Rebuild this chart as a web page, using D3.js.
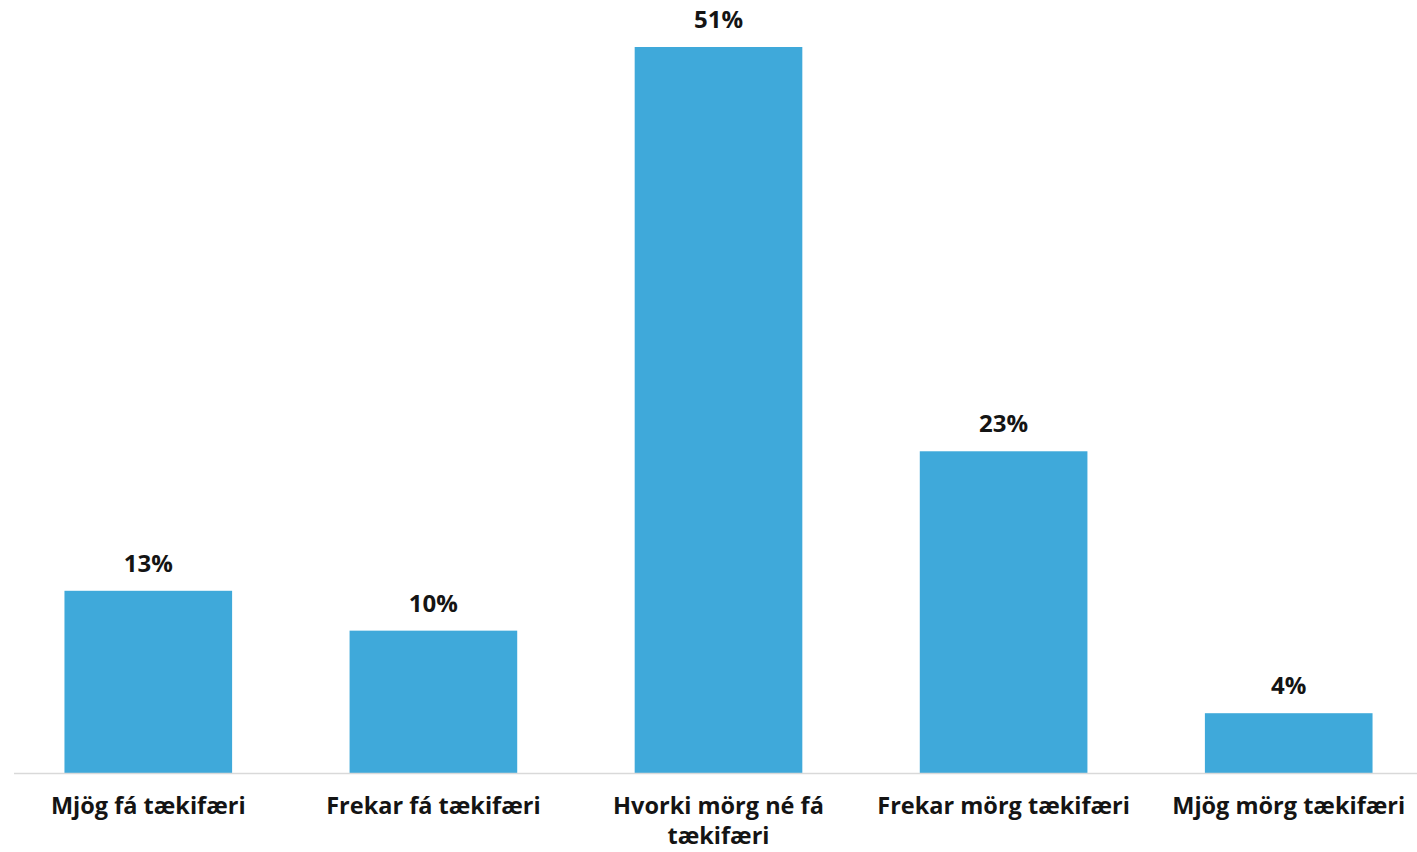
<!DOCTYPE html>
<html>
<head>
<meta charset="utf-8">
<script src="https://cdn.jsdelivr.net/npm/d3@7"></script>
<style>
  html, body { margin: 0; padding: 0; background: #ffffff; }
  svg { display: block; }
</style>
</head>
<body>
<div id="chart"></div>
<script>
const categories = [
  "Mjög fá tækifæri",
  "Frekar fá tækifæri",
  "Hvorki mörg né fá tækifæri",
  "Frekar mörg tækifæri",
  "Mjög mörg tækifæri"
];
const categoryLines = [
  ["Mjög fá tækifæri"],
  ["Frekar fá tækifæri"],
  ["Hvorki mörg né fá", "tækifæri"],
  ["Frekar mörg tækifæri"],
  ["Mjög mörg tækifæri"]
];
const values = [12.8, 10.0, 51.0, 22.6, 4.2];
const valueLabels = ["13%", "10%", "51%", "23%", "4%"];

const W = 1417, H = 852;
const baseline = 773;
const svg = d3.select("#chart").append("svg").attr("width", W).attr("height", H);

const x = d3.scaleBand()
  .domain(categories)
  .range([14, 1423])
  .paddingInner(0.412)
  .paddingOuter(0.177);

const y = d3.scaleLinear()
  .domain([0, 51])
  .range([baseline, 47]);

const font = "'Open Sans', 'DejaVu Sans', sans-serif";

svg.append("g").selectAll("rect")
  .data(values)
  .join("rect")
  .attr("x", (d, i) => x(categories[i]))
  .attr("width", x.bandwidth())
  .attr("y", d => y(d))
  .attr("height", d => y(0) - y(d))
  .attr("fill", "#3fa9da");

// axis line
svg.append("line")
  .attr("x1", 14).attr("x2", W)
  .attr("y1", baseline + 0.5).attr("y2", baseline + 0.5)
  .attr("stroke", "#d9d9d9").attr("stroke-width", 1.3);

// value labels
svg.append("g").selectAll("text")
  .data(values)
  .join("text")
  .attr("x", (d, i) => x(categories[i]) + x.bandwidth() / 2)
  .attr("y", d => y(d) - 19)
  .attr("text-anchor", "middle")
  .attr("font-family", font)
  .attr("font-weight", 700)
  .attr("font-size", 24)
  .attr("fill", "#141414")
  .text((d, i) => valueLabels[i]);

// category labels
const cat = svg.append("g").selectAll("text")
  .data(categories)
  .join("text")
  .attr("x", d => x(d) + x.bandwidth() / 2)
  .attr("y", 814)
  .attr("text-anchor", "middle")
  .attr("font-family", font)
  .attr("font-weight", 700)
  .attr("font-size", 23.5)
  .attr("fill", "#141414");
cat.each(function(d, i) {
  const t = d3.select(this);
  categoryLines[i].forEach((line, j) => {
    t.append("tspan")
      .attr("x", x(d) + x.bandwidth() / 2)
      .attr("dy", j === 0 ? 0 : 30)
      .text(line);
  });
});
</script>
</body>
</html>
